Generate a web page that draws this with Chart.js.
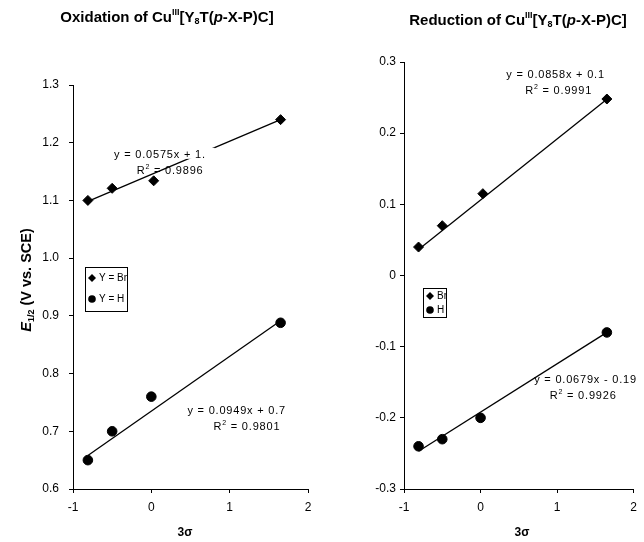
<!DOCTYPE html>
<html>
<head>
<meta charset="utf-8">
<script src="https://cdn.jsdelivr.net/npm/chart.js@4.4.1/dist/chart.umd.min.js"></script>
<style>
  html, body { margin: 0; padding: 0; background: #fff; }
  #wrap { position: relative; width: 644px; height: 542px; }
  .pane { position: absolute; top: 0; width: 322px; height: 542px; }
  #paneL { left: 0; }
  #paneR { left: 322px; }
</style>
</head>
<body>
<div id="wrap">
  <div class="pane" id="paneL"><canvas id="oxid" width="322" height="542"></canvas></div>
  <div class="pane" id="paneR"><canvas id="redu" width="322" height="542"></canvas></div>
</div>
<script>
// Hammett parameter (3σ) for each para substituent
const sigma3 = [-0.81, -0.5, 0.03, 1.65];
const sigma3H = [-0.81, -0.5, 0.0, 1.65];

// E1/2 (V vs. SCE), oxidation
const oxBr = [1.100, 1.121, 1.134, 1.240];
const oxH  = [0.650, 0.700, 0.760, 0.888];

// E1/2 (V vs. SCE), reduction
const redBr = [0.040, 0.070, 0.115, 0.248];
const redH  = [-0.240, -0.230, -0.200, -0.080];

// linear fits: slope, intercept
const fitOxBr  = [0.0575, 1.145];
const fitOxH   = [0.0949, 0.735];
const fitRedBr = [0.0858, 0.106];
const fitRedH  = [0.0679, -0.192];
const fitRange = [-0.81, 1.65];

const oxTicksY  = [0.6, 0.7, 0.8, 0.9, 1.0, 1.1, 1.2, 1.3];
const redTicksY = [-0.3, -0.2, -0.1, 0, 0.1, 0.2, 0.3];
const ticksX = [-1, 0, 1, 2];

const FONT = "'Liberation Sans', Arial, sans-serif";

function pts(xs, ys) { return xs.map((x, i) => ({ x: x, y: ys[i] })); }
function fitLine(fit) { return fitRange.map(x => ({ x: x, y: fit[0] * x + fit[1] })); }

// draws a sequence of styled text runs, centred horizontally on cx
function drawRuns(ctx, runs, cx, cy) {
  let total = 0;
  runs.forEach(r => { ctx.font = r.font; total += ctx.measureText(r.t).width; });
  let x = cx - total / 2;
  ctx.textBaseline = 'alphabetic';
  ctx.textAlign = 'left';
  runs.forEach(r => {
    ctx.font = r.font;
    ctx.fillText(r.t, x, cy + (r.dy || 0));
    x += ctx.measureText(r.t).width;
  });
}

function titleRuns(word) {
  const b = 'bold 15px ' + FONT, s = 'bold 9px ' + FONT;
  return [
    { t: word + ' of Cu', font: b },
    { t: 'III', font: s, dy: -7 },
    { t: '[Y', font: b },
    { t: '8', font: s, dy: 2 },
    { t: 'T(', font: b },
    { t: 'p', font: 'italic bold 15px ' + FONT },
    { t: '-X-P)C]', font: b }
  ];
}

const EQ_FONT = '11px ' + FONT;

const decor = {
  id: 'decor',
  afterDraw(chart, args, o) {
    const ctx = chart.ctx, xs = chart.scales.x, ys = chart.scales.y;
    ctx.save();
    ctx.fillStyle = '#000';
    drawRuns(ctx, titleRuns(o.word), o.titleX, o.titleY);

    if (o.yTitle) {
      ctx.save();
      ctx.translate(o.yTitle.x, o.yTitle.y);
      ctx.rotate(-Math.PI / 2);
      drawRuns(ctx, [
        { t: 'E', font: 'italic bold 14.5px ' + FONT },
        { t: '1/2', font: 'bold 9px ' + FONT, dy: 3 },
        { t: ' (V vs. SCE)', font: 'bold 14.5px ' + FONT }
      ], 0, 5);
      ctx.restore();
    }

    ctx.font = 'bold 12px ' + FONT;
    ctx.textAlign = 'center';
    ctx.textBaseline = 'alphabetic';
    ctx.fillText('3\u03C3', o.xTitle.x, o.xTitle.y);

    // fit equations with R² underneath
    ctx.letterSpacing = '0.8px';
    o.notes.forEach(n => {
      const px = xs.getPixelForValue(n.x), py = ys.getPixelForValue(n.y);
      ctx.font = EQ_FONT;
      const w = ctx.measureText(n.eq).width;
      const left = n.align === 'left' ? px : px - w / 2;
      if (n.mask) {
        ctx.fillStyle = '#fff';
        ctx.fillRect(left - 3, py - 7, w + n.mask, 11);
        ctx.fillStyle = '#000';
      }
      ctx.textAlign = 'left';
      ctx.textBaseline = 'middle';
      ctx.fillText(n.eq, left, py);

      const py2 = py + 16;
      const px2 = xs.getPixelForValue(n.rx);
      const r1 = 'R', r2 = ' = ' + n.r2;
      ctx.font = EQ_FONT;
      const w1 = ctx.measureText(r1).width, w3 = ctx.measureText(r2).width;
      ctx.font = '7px ' + FONT;
      const w2 = ctx.measureText('2').width;
      const start = px2 - (w1 + w2 + w3) / 2;
      ctx.font = EQ_FONT;
      ctx.fillText(r1, start, py2);
      ctx.font = '7px ' + FONT;
      ctx.fillText('2', start + w1, py2 - 4);
      ctx.font = EQ_FONT;
      ctx.fillText(r2, start + w1 + w2, py2);
    });
    ctx.letterSpacing = '0px';

    // legend box (its frame cuts the labels off)
    const L = o.legend;
    ctx.fillStyle = '#fff';
    ctx.fillRect(L.x, L.y, L.w, L.h);
    ctx.strokeStyle = '#000';
    ctx.lineWidth = 1;
    ctx.strokeRect(L.x + 0.5, L.y + 0.5, L.w, L.h);
    ctx.save();
    ctx.beginPath();
    ctx.rect(L.x, L.y, L.w, L.h);
    ctx.clip();
    ctx.fillStyle = '#000';
    L.items.forEach((it, i) => {
      const cy = L.y + L.first + i * L.gap;
      const mx = L.x + 7;
      ctx.beginPath();
      if (it.shape === 'diamond') {
        ctx.moveTo(mx, cy - 4); ctx.lineTo(mx + 4, cy); ctx.lineTo(mx, cy + 4); ctx.lineTo(mx - 4, cy);
        ctx.closePath();
      } else {
        ctx.arc(mx, cy, 3.8, 0, Math.PI * 2);
      }
      ctx.fill();
      ctx.font = '10px ' + FONT;
      ctx.textAlign = 'left';
      ctx.textBaseline = 'middle';
      ctx.fillText(it.text, mx + 7, cy + 0.5);
    });
    ctx.restore();
    ctx.restore();
  }
};

function makeChart(id, cfg) {
  return new Chart(document.getElementById(id), {
    type: 'scatter',
    data: {
      datasets: [
        { data: fitLine(cfg.fitBr), type: 'line', showLine: true, borderColor: '#000', borderWidth: 1.3, pointRadius: 0, fill: false },
        { data: fitLine(cfg.fitH), type: 'line', showLine: true, borderColor: '#000', borderWidth: 1.3, pointRadius: 0, fill: false },
        { data: pts(sigma3, cfg.br), pointStyle: 'rectRot', pointRadius: 5, backgroundColor: '#000', borderColor: '#000' },
        { data: pts(sigma3H, cfg.h), pointStyle: 'circle', pointRadius: 4.8, backgroundColor: '#000', borderColor: '#000' }
      ]
    },
    options: {
      responsive: false,
      animation: false,
      devicePixelRatio: 1,
      layout: { padding: { left: 0, right: cfg.padRight, top: cfg.top, bottom: 0 } },
      plugins: { legend: { display: false }, tooltip: { enabled: false }, decor: cfg.decor },
      scales: {
        x: {
          type: 'linear', min: -1, max: 2,
          afterBuildTicks: s => { s.ticks = ticksX.map(v => ({ value: v })); },
          afterFit: s => { s.height = 53; },
          grid: { drawOnChartArea: false, drawTicks: true, tickLength: 4, color: '#000' },
          border: { color: '#000', width: 1 },
          ticks: { color: '#000', font: { family: FONT, size: 12 }, padding: 7, callback: v => String(v) }
        },
        y: {
          type: 'linear', min: cfg.yMin, max: cfg.yMax,
          afterBuildTicks: s => { s.ticks = cfg.yTicks.map(v => ({ value: v })); },
          afterFit: s => { s.width = cfg.axisX; },
          grid: { drawOnChartArea: false, drawTicks: true, tickLength: 4, color: '#000' },
          border: { color: '#000', width: 1 },
          ticks: { color: '#000', font: { family: FONT, size: 12 }, padding: cfg.yPad, callback: cfg.yFmt }
        }
      }
    },
    plugins: [decor]
  });
}

makeChart('oxid', {
  br: oxBr, h: oxH, fitBr: fitOxBr, fitH: fitOxH,
  yMin: 0.6, yMax: 1.3, yTicks: oxTicksY, axisX: 73, padRight: 14, top: 85, yPad: 10,
  yFmt: v => (Math.round(v * 10) / 10).toFixed(1),
  decor: {
    word: 'Oxidation', titleX: 167, titleY: 22,
    yTitle: { x: 26, y: 280 },
    xTitle: { x: 185, y: 536 },
    notes: [
      { eq: 'y = 0.0575x + 1.', x: 0.11, y: 1.179, rx: 0.24, r2: '0.9896', mask: 12 },
      { eq: 'y = 0.0949x + 0.7', x: 1.09, y: 0.735, rx: 1.22, r2: '0.9801' }
    ],
    legend: { x: 85, y: 267, w: 42, h: 44, first: 11, gap: 21,
      items: [{ shape: 'diamond', text: 'Y = Br' }, { shape: 'circle', text: 'Y = H' }] }
  }
});

makeChart('redu', {
  br: redBr, h: redH, fitBr: fitRedBr, fitH: fitRedH,
  yMin: -0.3, yMax: 0.3, yTicks: redTicksY, axisX: 82, padRight: 4, top: 62, yPad: 4,
  yFmt: v => { const r = Math.round(v * 10) / 10; return r === 0 ? '0' : r.toFixed(1); },
  decor: {
    word: 'Reduction', titleX: 196, titleY: 25,
    yTitle: null,
    xTitle: { x: 200, y: 536 },
    notes: [
      { eq: 'y = 0.0858x + 0.1', x: 0.98, y: 0.282, rx: 1.02, r2: '0.9991' },
      { eq: 'y = 0.0679x - 0.19', x: 0.7, y: -0.147, rx: 1.34, r2: '0.9926', align: 'left' }
    ],
    legend: { x: 101, y: 288, w: 23, h: 29, first: 8, gap: 14,
      items: [{ shape: 'diamond', text: 'Br' }, { shape: 'circle', text: 'H' }] }
  }
});
</script>
</body>
</html>
